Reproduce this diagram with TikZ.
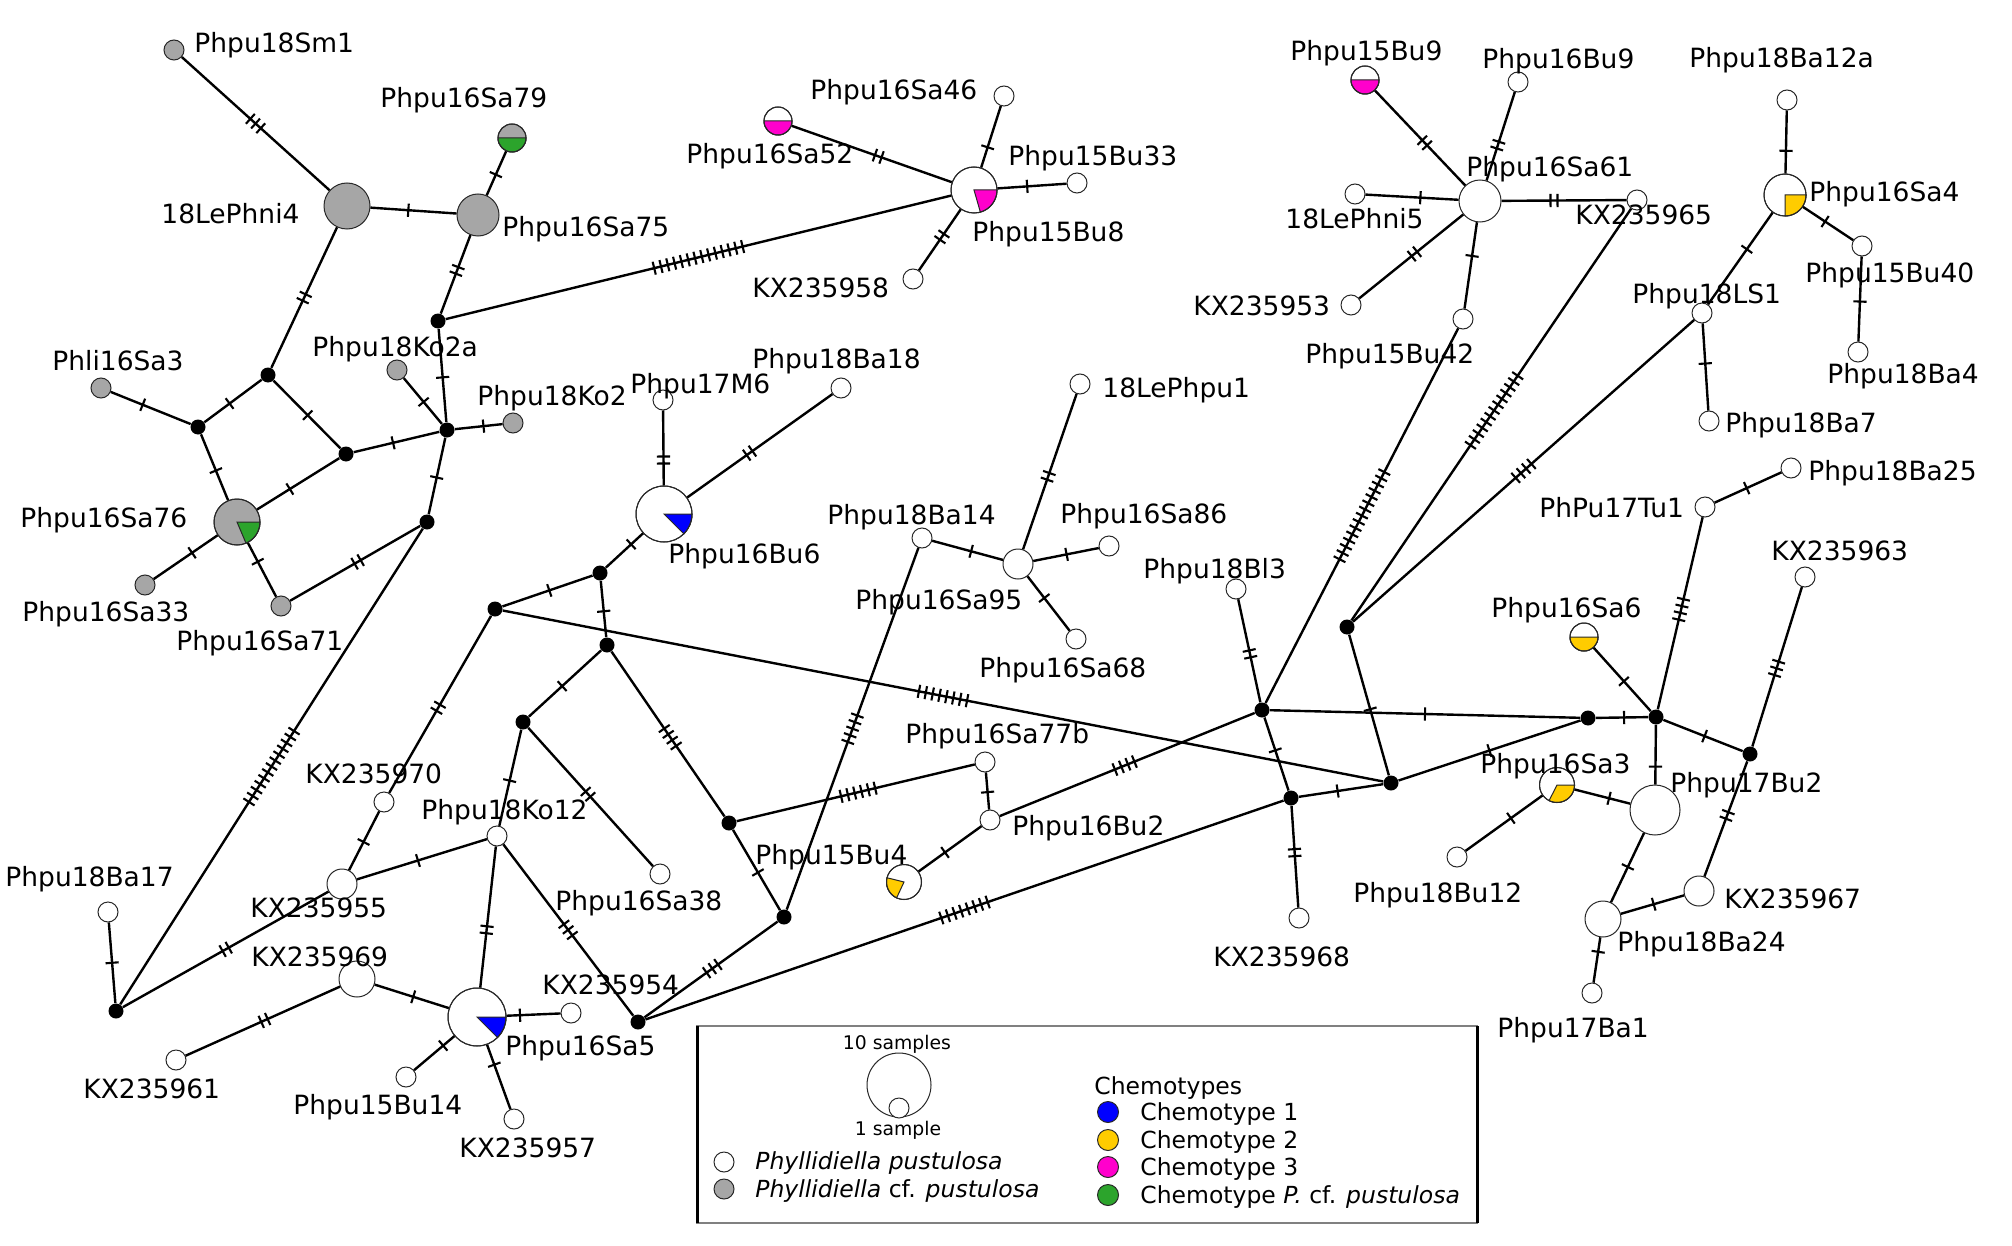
\documentclass[tikz,border=0pt]{standalone}
\usepackage{fontspec}
\setmainfont{DejaVu Sans}
\usetikzlibrary{decorations.markings}
\definecolor{hgray}{RGB}{166,166,166}
\definecolor{cgreen}{RGB}{44,164,44}
\definecolor{cblue}{RGB}{0,0,255}
\definecolor{cyellow}{RGB}{255,204,0}
\definecolor{cmag}{RGB}{255,0,204}
\definecolor{outl}{RGB}{40,40,40}
\tikzset{
 hw/.style={circle, draw=outl, line width=0.5pt, fill=white, inner sep=0pt, minimum size=#1pt},
 hw/.default=10,
 hg/.style={hw=#1, fill=hgray}, hg/.default=10,
 jn/.style={circle, fill=black, inner sep=0pt, minimum size=7.5pt},
 con/.style={line width=1.2pt, black},
 mut/.style 2 args={postaction={decorate, decoration={markings, mark=at position #2 with {\foreach \k in {1,...,#1}{\draw[line width=1.05pt,black] ({(\k-(#1+1)/2)*3.5pt},-3.3pt) -- ({(\k-(#1+1)/2)*3.5pt},3.3pt);}}}}},
 lab/.style={inner sep=0pt, anchor=base west, font=\fontsize{13.25}{15}\selectfont},
 leg/.style={inner sep=0pt, anchor=base west, font=\fontsize{11.75}{14}\selectfont},
 legs/.style={inner sep=0pt, anchor=base, font=\fontsize{9.4}{11}\selectfont},
}
\newcommand\hpie[5]{%
 \filldraw[fill=#5, draw=outl, line width=0.5pt, shift={(#1.center)}] (0,0) -- plot[domain=#3:#4, samples=36] ({#2*cos(\x)},{#2*sin(\x)}) -- cycle;
 \draw[outl, line width=0.5pt] (#1.center) circle[radius=#2*0.5pt];}
\begin{document}
\begin{tikzpicture}[x=0.5pt,y=-0.5pt]
\fill[white] (0,0) rectangle (2012,1246);
\useasboundingbox (0,0) rectangle (2012,1246);
% gray haplotypes
\node[hg=10] (Sm1) at (174,50) {};
\node[hg=23] (LePhni4) at (347,206) {};
\node[hg=21] (Sa75) at (478,215) {};
\node[hg=14] (Sa79) at (512,138) {};
\node[hg=10] (Sa3) at (101,388) {};
\node[hg=10] (Ko2a) at (397,370) {};
\node[hg=10] (Ko2) at (513,423) {};
\node[hg=23] (Sa76) at (237,522) {};
\node[hg=10] (Sa33) at (145,585) {};
\node[hg=10] (Sa71) at (281,606) {};
% junctions
\node[jn] (j1) at (268,375) {};
\node[jn] (j2) at (198,427) {};
\node[jn] (j3) at (346,454) {};
\node[jn] (j4) at (438,321) {};
\node[jn] (j5) at (447,430) {};
\node[jn] (j6) at (427,522) {};
\node[jn] (j7) at (495,609) {};
\node[jn] (j8) at (600,573) {};
\node[jn] (j9) at (607,645) {};
\node[jn] (j10) at (523,722) {};
\node[jn] (j11) at (729,823) {};
\node[jn] (j12) at (784,917) {};
\node[jn] (j13) at (638,1022) {};
\node[jn] (j14) at (116,1011) {};
\node[jn] (j15) at (1262,710) {};
\node[jn] (j16) at (1347,627) {};
\node[jn] (j17) at (1291,798) {};
\node[jn] (j18) at (1391,783) {};
\node[jn] (j19) at (1588,718) {};
\node[jn] (j20) at (1656,717) {};
\node[jn] (j21) at (1750,754) {};
% white haplotypes
\node[hw=23] (Bu8) at (974,190) {};
\node[hw] (Sa46) at (1004,96) {};
\node[hw=14] (Sa52) at (778,121) {};
\node[hw] (Bu33) at (1077,183) {};
\node[hw] (KX958) at (913,279) {};
\node[hw=21] (Sa61) at (1480,201) {};
\node[hw=14] (Bu9) at (1365,80) {};
\node[hw] (Bu9b) at (1518,82) {};
\node[hw] (LePhni5) at (1355,194) {};
\node[hw] (KX953) at (1351,305) {};
\node[hw] (Bu42) at (1463,319) {};
\node[hw] (KX965) at (1637,200) {};
\node[hw] (Ba12a) at (1787,100) {};
\node[hw=21] (Sa4) at (1785,195) {};
\node[hw] (Bu40) at (1862,246) {};
\node[hw] (Ba4) at (1858,352) {};
\node[hw] (LS1) at (1702,313) {};
\node[hw] (Ba7) at (1709,421) {};
\node[hw] (M6) at (663,400) {};
\node[hw] (Ba18) at (841,388) {};
\node[hw=28] (Bu6) at (664,514) {};
\node[hw] (Ba14) at (922,538) {};
\node[hw=15] (Sa95) at (1018,564) {};
\node[hw] (LePhpu1) at (1080,384) {};
\node[hw] (Sa86) at (1109,546) {};
\node[hw] (Sa68) at (1076,639) {};
\node[hw] (Bl3) at (1236,589) {};
\node[hw=14] (Sa6) at (1584,637) {};
\node[hw] (Tu1) at (1705,507) {};
\node[hw] (Ba25) at (1791,468) {};
\node[hw] (KX963) at (1805,577) {};
\node[hw=25] (Bu2) at (1655,810) {};
\node[hw=17.5] (Sa3y) at (1557,785) {};
\node[hw] (Bu12) at (1457,857) {};
\node[hw=15] (KX967) at (1699,891) {};
\node[hw=18] (Ba24) at (1603,919) {};
\node[hw] (Ba1) at (1592,993) {};
\node[hw] (KX968) at (1299,918) {};
\node[hw] (Sa77b) at (985,762) {};
\node[hw] (Bu2b) at (990,820) {};
\node[hw=17.5] (Bu4) at (904,882) {};
\node[hw] (Sa38) at (660,874) {};
\node[hw] (Ko12) at (497,836) {};
\node[hw] (KX970) at (384,802) {};
\node[hw=15] (KX955) at (342,884) {};
\node[hw=18] (KX969) at (357,979) {};
\node[hw] (KX961) at (176,1060) {};
\node[hw=29] (Sa5) at (477,1017) {};
\node[hw] (Bu14) at (406,1077) {};
\node[hw] (KX957) at (514,1119) {};
\node[hw] (KX954) at (571,1013) {};
\node[hw] (Ba17) at (108,912) {};
% connectors
\draw[con,mut={3}{.5}] (Sm1) -- (LePhni4);
\draw[con,mut={1}{.44}] (LePhni4) -- (Sa75);
\draw[con,mut={1}{.47}] (Sa75) -- (Sa79);
\draw[con,mut={2}{.5}] (LePhni4) -- (j1);
\draw[con,mut={2}{.45}] (Sa75) -- (j4);
\draw[con,mut={14}{.5}] (j4) -- (Bu8);
\draw[con,mut={1}{.56}] (j1) -- (j2);
\draw[con,mut={1}{.51}] (j1) -- (j3);
\draw[con,mut={1}{.4}] (Sa3) -- (j2);
\draw[con,mut={1}{.55}] (j2) -- (Sa76);
\draw[con,mut={1}{.4}] (Sa76) -- (j3);
\draw[con,mut={1}{.46}] (j3) -- (j5);
\draw[con,mut={1}{.52}] (j4) -- (j5);
\draw[con,mut={1}{.52}] (Ko2a) -- (j5);
\draw[con,mut={1}{.6}] (j5) -- (Ko2);
\draw[con,mut={1}{.52}] (j5) -- (j6);
\draw[con,mut={1}{.4}] (Sa76) -- (Sa33);
\draw[con,mut={1}{.35}] (Sa76) -- (Sa71);
\draw[con,mut={2}{.52}] (Sa71) -- (j6);
\draw[con,mut={13}{.5}] (j6) -- (j14);
\draw[con,mut={2}{.52}] (j7) -- (KX970);
\draw[con,mut={1}{.52}] (KX970) -- (KX955);
\draw[con,mut={1}{.5}] (Ba17) -- (j14);
\draw[con,mut={2}{.5}] (j14) -- (KX955);
\draw[con,mut={1}{.47}] (KX955) -- (Ko12);
\draw[con,mut={2}{.49}] (KX969) -- (KX961);
\draw[con,mut={1}{.52}] (KX969) -- (Sa5);
\draw[con,mut={2}{.59}] (Ko12) -- (Sa5);
\draw[con,mut={1}{.28}] (Sa5) -- (Bu14);
\draw[con,mut={1}{.31}] (Sa5) -- (KX957);
\draw[con,mut={1}{.25}] (Sa5) -- (KX954);
\draw[con,mut={3}{.5}] (Ko12) -- (j13);
\draw[con,mut={3}{.51}] (j13) -- (j12);
\draw[con,mut={1}{.47}] (j12) -- (j11);
\draw[con,mut={5}{.5}] (j12) -- (Ba14);
\draw[con,mut={8}{.5}] (j13) -- (j17);
\draw[con,mut={1}{.53}] (j10) -- (Ko12);
\draw[con,mut={2}{.48}] (j10) -- (Sa38);
\draw[con,mut={1}{.54}] (j9) -- (j10);
\draw[con,mut={4}{.52}] (j9) -- (j11);
\draw[con,mut={1}{.54}] (j8) -- (j9);
\draw[con,mut={1}{.48}] (j8) -- (j7);
\draw[con,mut={1}{.68}] (j8) -- (Bu6);
\draw[con,mut={2}{.34}] (Bu6) -- (M6);
\draw[con,mut={2}{.43}] (Bu6) -- (Ba18);
\draw[con,mut={8}{.5}] (j7) -- (j18);
\draw[con,mut={6}{.51}] (j11) -- (Sa77b);
\draw[con,mut={1}{.53}] (Sa77b) -- (Bu2b);
\draw[con,mut={1}{.58}] (Bu2b) -- (Bu4);
\draw[con,mut={4}{.49}] (Bu2b) -- (j15);
\draw[con,mut={1}{.55}] (Ba14) -- (Sa95);
\draw[con,mut={2}{.47}] (Sa95) -- (LePhpu1);
\draw[con,mut={1}{.51}] (Sa95) -- (Sa86);
\draw[con,mut={1}{.4}] (Sa95) -- (Sa68);
\draw[con,mut={2}{.53}] (Bl3) -- (j15);
\draw[con,mut={15}{.5}] (j15) -- (Bu42);
\draw[con,mut={1}{.5}] (j15) -- (j19);
\draw[con,mut={1}{.45}] (j15) -- (j17);
\draw[con,mut={2}{.46}] (j17) -- (KX968);
\draw[con,mut={1}{.46}] (j17) -- (j18);
\draw[con,mut={1}{.53}] (j16) -- (j18);
\draw[con,mut={13}{.51}] (j16) -- (KX965);
\draw[con,mut={4}{.5}] (j16) -- (LS1);
\draw[con,mut={1}{.5}] (j18) -- (j19);
\draw[con,mut={1}{.54}] (j19) -- (j20);
\draw[con,mut={1}{.53}] (Sa6) -- (j20);
\draw[con,mut={4}{.52}] (j20) -- (Tu1);
\draw[con,mut={1}{.48}] (Tu1) -- (Ba25);
\draw[con,mut={1}{.52}] (j20) -- (j21);
\draw[con,mut={3}{.49}] (j21) -- (KX963);
\draw[con,mut={2}{.47}] (j21) -- (KX967);
\draw[con,mut={1}{.7}] (j20) -- (Bu2);
\draw[con,mut={1}{.62}] (Sa3y) -- (Bu2);
\draw[con,mut={1}{.41}] (Sa3y) -- (Bu12);
\draw[con,mut={1}{.49}] (Bu2) -- (Ba24);
\draw[con,mut={1}{.52}] (Ba24) -- (KX967);
\draw[con,mut={1}{.32}] (Ba24) -- (Ba1);
\draw[con,mut={2}{.45}] (Sa61) -- (Bu9);
\draw[con,mut={2}{.4}] (Sa61) -- (Bu9b);
\draw[con,mut={1}{.41}] (Sa61) -- (LePhni5);
\draw[con,mut={2}{.47}] (Sa61) -- (KX953);
\draw[con,mut={1}{.39}] (Sa61) -- (Bu42);
\draw[con,mut={2}{.42}] (Sa61) -- (KX965);
\draw[con,mut={1}{.36}] (Sa4) -- (Ba12a);
\draw[con,mut={1}{.44}] (Sa4) -- (Bu40);
\draw[con,mut={1}{.53}] (Bu40) -- (Ba4);
\draw[con,mut={1}{.4}] (Sa4) -- (LS1);
\draw[con,mut={1}{.46}] (LS1) -- (Ba7);
\draw[con,mut={1}{.33}] (Bu8) -- (Sa46);
\draw[con,mut={2}{.46}] (Bu8) -- (Sa52);
\draw[con,mut={1}{.43}] (Bu8) -- (Bu33);
\draw[con,mut={2}{.45}] (Bu8) -- (KX958);
% pie slices
\hpie{Sa79}{14}{0}{180}{cgreen}
\hpie{Sa76}{23}{0}{67}{cgreen}
\hpie{Bu8}{23}{0}{74}{cmag}
\hpie{Sa52}{14}{0}{180}{cmag}
\hpie{Bu9}{14}{0}{180}{cmag}
\hpie{Sa4}{21}{0}{90}{cyellow}
\hpie{Bu6}{28}{0}{45}{cblue}
\hpie{Sa5}{29}{0}{45}{cblue}
\hpie{Sa6}{14}{0}{180}{cyellow}
\hpie{Sa3y}{17.5}{0}{117}{cyellow}
\hpie{Bu4}{17.5}{115}{194}{cyellow}
% labels
\node[lab] (tSm1) at (194,53) {Phpu18Sm1};
\node[lab] (tSa79) at (380,108) {Phpu16Sa79};
\node[lab] (tLePhni4) at (161,224) {18LePhni4};
\node[lab] (tSa75) at (502,237) {Phpu16Sa75};
\node[lab] (tSa3) at (52,370) {Phli16Sa3};
\node[lab] (tKo2a) at (312,356) {Phpu18Ko2a};
\node[lab] (tKo2) at (477,405) {Phpu18Ko2};
\node[lab] (tM6) at (630,393) {Phpu17M6};
\node[lab] (tBa18) at (752,368) {Phpu18Ba18};
\node[lab] (tSa46) at (810,100) {Phpu16Sa46};
\node[lab] (tSa52) at (686,164) {Phpu16Sa52};
\node[lab] (tKX958) at (752,297) {KX235958};
\node[lab] (tBu8) at (972,242) {Phpu15Bu8};
\node[lab] (tBu33) at (1008,166) {Phpu15Bu33};
\node[lab] (tBu9) at (1290,61) {Phpu15Bu9};
\node[lab] (tBu9b) at (1482,69) {Phpu16Bu9};
\node[lab] (tSa61) at (1466,177) {Phpu16Sa61};
\node[lab] (tLePhni5) at (1285,229) {18LePhni5};
\node[lab] (tKX953) at (1193,315) {KX235953};
\node[lab] (tBu42) at (1305,363) {Phpu15Bu42};
\node[lab] (tKX965) at (1575,225) {KX235965};
\node[lab] (tBa12a) at (1689,68) {Phpu18Ba12a};
\node[lab] (tSa4) at (1809,202) {Phpu16Sa4};
\node[lab] (tBu40) at (1805,283) {Phpu15Bu40};
\node[lab] (tBa4) at (1827,383) {Phpu18Ba4};
\node[lab] (tLS1) at (1632,303) {Phpu18LS1};
\node[lab] (tBa7) at (1725,432) {Phpu18Ba7};
\node[lab] (tLePhpu1) at (1102,397) {18LePhpu1};
\node[lab] (tBu6) at (668,563) {Phpu16Bu6};
\node[lab] (tBa14) at (827,524) {Phpu18Ba14};
\node[lab] (tSa95) at (855,609) {Phpu16Sa95};
\node[lab] (tSa86) at (1060,523) {Phpu16Sa86};
\node[lab] (tSa68) at (979,677) {Phpu16Sa68};
\node[lab] (tBl3) at (1143,578) {Phpu18Bl3};
\node[lab] (tSa77b) at (905,743) {Phpu16Sa77b};
\node[lab] (tBu2b) at (1012,835) {Phpu16Bu2};
\node[lab] (tBu4) at (755,864) {Phpu15Bu4};
\node[lab] (tSa38) at (555,910) {Phpu16Sa38};
\node[lab] (tKo12) at (421,819) {Phpu18Ko12};
\node[lab] (tKX970) at (305,783) {KX235970};
\node[lab] (tBa17) at (5,886) {Phpu18Ba17};
\node[lab] (tKX955) at (250,917) {KX235955};
\node[lab] (tKX969) at (251,966) {KX235969};
\node[lab] (tKX961) at (83,1098) {KX235961};
\node[lab] (tBu14) at (293,1114) {Phpu15Bu14};
\node[lab] (tKX957) at (459,1157) {KX235957};
\node[lab] (tKX954) at (542,994) {KX235954};
\node[lab] (tSa5) at (505,1055) {Phpu16Sa5};
\node[lab] (tKX968) at (1213,966) {KX235968};
\node[lab] (tBu12) at (1353,902) {Phpu18Bu12};
\node[lab] (tSa3y) at (1480,773) {Phpu16Sa3};
\node[lab] (tBu2) at (1670,792) {Phpu17Bu2};
\node[lab] (tBa24) at (1617,951) {Phpu18Ba24};
\node[lab] (tKX967) at (1724,908) {KX235967};
\node[lab] (tBa1) at (1497,1037) {Phpu17Ba1};
\node[lab] (tSa6) at (1491,617) {Phpu16Sa6};
\node[lab] (tTu1) at (1539,517) {PhPu17Tu1};
\node[lab] (tBa25) at (1808,480) {Phpu18Ba25};
\node[lab] (tKX963) at (1771,560) {KX235963};
\node[lab] (tSa76) at (20,527) {Phpu16Sa76};
\node[lab] (tSa33) at (22,621) {Phpu16Sa33};
\node[lab] (tSa71) at (176,650) {Phpu16Sa71};
% legend
\draw[gray, line width=0.6pt] (697,1026) rectangle (1477,1223);
\draw[black, line width=1.5pt] (697,1026) -- (697,1223);
\draw[black, line width=1.5pt] (1477,1026) -- (1477,1223);
\node[hw=32] (lbig) at (899,1085) {};
\node[hw=10] (lsmall) at (899,1108) {};
\node[legs] (l10) at (897,1049) {10 samples};
\node[legs] (l1) at (898,1135) {1 sample};
\node[hw=10] (lw) at (724,1162) {};
\node[hg=10] (lg) at (724,1189) {};
\node[leg] (tlw) at (755,1169) {\textit{Phyllidiella pustulosa}};
\node[leg] (tlg) at (755,1197) {\textit{Phyllidiella} cf. \textit{pustulosa}};
\node[leg] (tchem) at (1094,1094) {Chemotypes};
\node[hw=10.5, fill=cblue] (c1) at (1108,1112) {};
\node[hw=10.5, fill=cyellow] (c2) at (1108,1140) {};
\node[hw=10.5, fill=cmag] (c3) at (1108,1167) {};
\node[hw=10.5, fill=cgreen] (c4) at (1108,1195) {};
\node[leg] (tc1) at (1140,1120) {Chemotype 1};
\node[leg] (tc2) at (1140,1148) {Chemotype 2};
\node[leg] (tc3) at (1140,1175) {Chemotype 3};
\node[leg] (tc4) at (1140,1203) {Chemotype \textit{P.} cf. \textit{pustulosa}};
\end{tikzpicture}
\end{document}
